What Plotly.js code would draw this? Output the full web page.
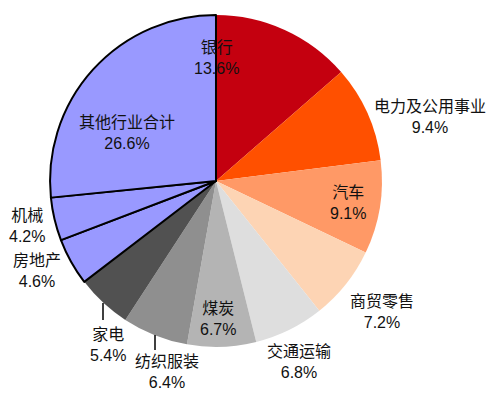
<!DOCTYPE html>
<html>
<head>
<meta charset="utf-8">
<script src="https://cdn.plot.ly/plotly-3.0.1.min.js"></script>
<style>html,body{margin:0;padding:0;background:#fff;}#chart{width:492px;height:396px;}</style>
</head>
<body>
<div id="chart"></div>
<script>
// Data
const categories = ["银行","电力及公用事业","汽车","商贸零售","交通运输","煤炭","纺织服装","家电","房地产","机械","其他行业合计"];
const shares = [13.6, 9.4, 9.1, 7.2, 6.8, 6.7, 6.4, 5.4, 4.6, 4.2, 26.6];

// Styles / layout
const colors = ["#C4000F","#FF5000","#FF9966","#FDD4B4","#DEDEDE","#B4B4B4","#8F8F8F","#515151","#9999FF","#9999FF","#9999FF"];
const edgeWidths = [0,0,0,0,0,0,0,0,2,2,2];
// label centre positions in pixels (layout only)
const labelPos = [[216,58],[430,117],[348,203],[382,312],[299,362],[218,319],[167,372],[108,345],[37,271],[27,226],[127,133]];
const W = 492, H = 396;

const trace = {
  type: "pie",
  labels: categories,
  values: shares,
  sort: false,
  direction: "clockwise",
  rotation: 0,
  textinfo: "none",
  hoverinfo: "label+percent",
  marker: {colors: colors, line: {color: "#000", width: edgeWidths}},
  domain: {x: [0.1016, 0.7764], y: [0.124, 0.962]},
  showlegend: false
};

const annotations = categories.map((c, i) => ({
  xref: "paper", yref: "paper",
  x: labelPos[i][0] / W, y: 1 - labelPos[i][1] / H,
  xanchor: "center", yanchor: "middle",
  text: c + "<br>" + shares[i].toFixed(1) + "%",
  showarrow: false,
  font: {family: "Liberation Sans, Noto Sans CJK SC, sans-serif", size: 16, color: "#111"}
}));

const leaders = [[155,335,155,350],[103,303,103,320]];
const shapes = leaders.map(l => ({
  type: "line", xref: "paper", yref: "paper",
  x0: l[0]/W, y0: 1 - l[1]/H, x1: l[2]/W, y1: 1 - l[3]/H,
  line: {color: "#000", width: 1.5}
}));

Plotly.newPlot("chart", [trace], {
  width: W, height: H,
  margin: {l: 0, r: 0, t: 0, b: 0},
  paper_bgcolor: "#fff",
  annotations: annotations,
  shapes: shapes,
  font: {family: "Liberation Sans, Noto Sans CJK SC, sans-serif"}
}, {displayModeBar: false, staticPlot: true});
</script>
</body>
</html>
